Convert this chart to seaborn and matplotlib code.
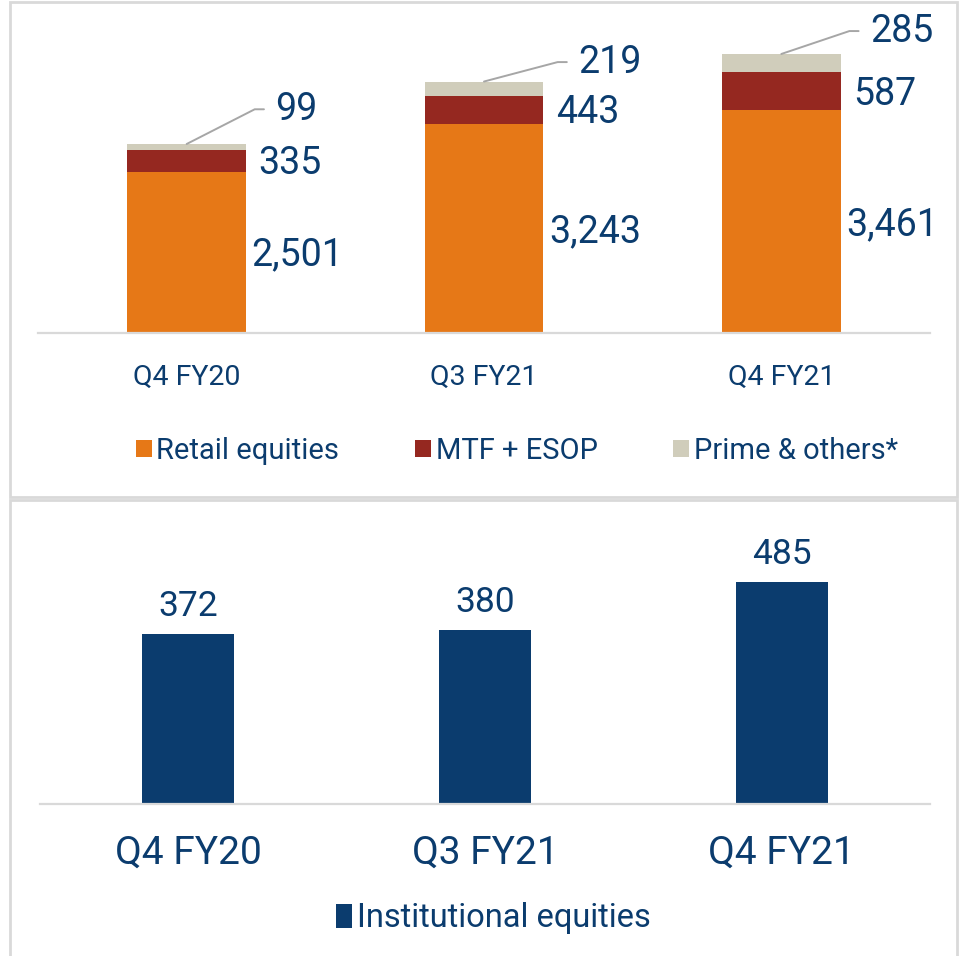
import numpy as np
import pandas as pd
import matplotlib.pyplot as plt
import seaborn as sns
from matplotlib.patches import Rectangle

quarters = ["Q4 FY20", "Q3 FY21", "Q4 FY21"]
retail = [2501, 3243, 3461]
mtf_esop = [335, 443, 587]
prime = [99, 219, 285]
institutional = [372, 380, 485]

navy = "#0B3C6E"
orange = "#E67817"
red = "#952820"
beige = "#D0CDBB"
grey = "#D9D9D9"

W, H = 961, 956
sns.set_theme(style="white")
plt.rcParams["font.family"] = ["Roboto", "DejaVu Sans"]

fig = plt.figure(figsize=(W / 100, H / 100), dpi=100)


def px_axes(x0, x1, y0, y1):
    # box in pixels, y counted from the top of the image
    return fig.add_axes([x0 / W, 1 - y1 / H, (x1 - x0) / W, (y1 - y0) / H])


ax1 = px_axes(38, 930, 40, 333)
ax2 = px_axes(40, 930, 540, 804)

# ---- top: stacked retail / MTF / prime ----
df = pd.DataFrame({"quarter": quarters, "retail": retail, "mtf": mtf_esop, "prime": prime})
df["mid"] = df["retail"] + df["mtf"]
df["total"] = df["mid"] + df["prime"]

bar_kw = dict(width=0.4, saturation=1, linewidth=0, ax=ax1)
sns.barplot(data=df, x="quarter", y="total", color=beige, label="Prime & others*", **bar_kw)
sns.barplot(data=df, x="quarter", y="mid", color=red, label="MTF + ESOP", **bar_kw)
sns.barplot(data=df, x="quarter", y="retail", color=orange, label="Retail equities", **bar_kw)
ax1.set_ylim(0, 4550)

for i, row in df.iterrows():
    ax1.annotate(f"{row.retail:,}", xy=(i + 0.2, row.retail / 2), xytext=(4, -2),
                 textcoords="offset points", ha="left", va="center",
                 fontsize=27, color=navy)
    ax1.annotate(f"{row.mtf:,}", xy=(i + 0.2, (row.retail + row.mid) / 2), xytext=(9, -2),
                 textcoords="offset points", ha="left", va="center",
                 fontsize=27, color=navy)

# leader lines for the small top segment
lead = [(64, 25), (68, 14), (64, 16.5)]
for i, row in df.iterrows():
    dx, dy = lead[i]
    ang = np.degrees(np.arctan2(dy, dx - 15))
    ax1.annotate(f"{row.prime:,}", xy=(i, row.total), xytext=(dx, dy),
                 textcoords="offset points", ha="left", va="center",
                 fontsize=27, color=navy, annotation_clip=False,
                 arrowprops=dict(arrowstyle="-", color="#A6A6A6", lw=1.4,
                                 shrinkA=6, shrinkB=0, relpos=(0, 0.5),
                                 connectionstyle=f"angle,angleA=0,angleB={ang},rad=0"))

h, l = ax1.get_legend_handles_labels()
order = [2, 1, 0]
fig.legend([h[k] for k in order], [l[k] for k in order], loc="center",
           bbox_to_anchor=(517 / W, 1 - 451 / H), ncol=3, frameon=False,
           fontsize=21, labelcolor=navy, handlelength=0.55, handleheight=0.55,
           handletextpad=0.15, columnspacing=2.6)

# ---- bottom: institutional ----
sns.barplot(x=quarters, y=institutional, color=navy, width=0.31, saturation=1,
            linewidth=0, label="Institutional equities", ax=ax2)
ax2.set_ylim(0, 578)
ax2.bar_label(ax2.containers[0], labels=[f"{v:,}" for v in institutional],
              padding=8, fontsize=25.5, color=navy)

h2, l2 = ax2.get_legend_handles_labels()
fig.legend(h2, l2, loc="center", bbox_to_anchor=(493 / W, 1 - 918 / H),
           frameon=False, fontsize=23.5, labelcolor=navy, handlelength=0.5,
           handleheight=0.75, handletextpad=0.15)

for ax, fs in [(ax1, 20.5), (ax2, 28)]:
    for s in ["top", "left", "right"]:
        ax.spines[s].set_visible(False)
    ax.spines["bottom"].set_color(grey)
    ax.spines["bottom"].set_linewidth(1.6)
    ax.set_xlabel("")
    ax.set_ylabel("")
    ax.set_yticks([])
    ax.tick_params(axis="x", length=0, pad=22, labelsize=fs, labelcolor=navy)
    ax.set_facecolor("none")
    if ax.get_legend():
        ax.get_legend().remove()

# panel frames
fig.add_artist(Rectangle((10 / W, 1 - 497 / H), 947 / W, 495 / H, transform=fig.transFigure,
                         fill=False, edgecolor=grey, lw=2))
fig.add_artist(Rectangle((10 / W, 1 - 960 / H), 947 / W, 460 / H, transform=fig.transFigure,
                         fill=False, edgecolor=grey, lw=2, clip_on=False))

fig.savefig("out.png", dpi=100)
